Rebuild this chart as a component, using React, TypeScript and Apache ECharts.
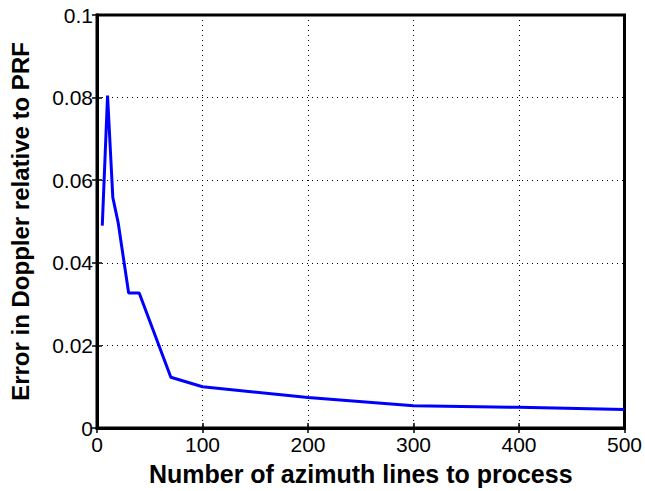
import React, { useEffect, useRef } from "react";
import * as echarts from "echarts";

const xValues = [5, 10, 15, 20, 30, 40, 70, 100, 200, 300, 400, 500];
const yValues = [0.049, 0.0805, 0.0558, 0.0498, 0.0327, 0.0327, 0.0123, 0.01, 0.0074, 0.0054, 0.005, 0.0045];
const xTicks = [0, 100, 200, 300, 400, 500];
const yTicks = [0, 0.02, 0.04, 0.06, 0.08, 0.1];

export default function App() {
  const ref = useRef<HTMLDivElement>(null);
  useEffect(() => {
    if (!ref.current) return;
    const chart = echarts.init(ref.current, null, { renderer: "svg" });
    const font = "Liberation Sans, Arial, Helvetica, sans-serif";
    const gridLine = { show: true, lineStyle: { color: "#000", type: [1, 4] as any, width: 1 } };
    chart.setOption({
      animation: false,
      backgroundColor: "#fff",
      grid: { left: 96, right: 18, top: 15, bottom: 63, show: true, borderColor: "#000", borderWidth: 3, backgroundColor: "transparent" },
      xAxis: [
        {
          type: "value", min: 0, max: 500, interval: 100,
          name: "Number of azimuth lines to process", nameLocation: "middle", nameGap: 33,
          nameTextStyle: { fontFamily: font, fontWeight: "bold", fontSize: 25, color: "#000" },
          axisLine: { show: true, lineStyle: { color: "#000", width: 3 } },
          axisTick: { show: true, inside: true, length: 5, lineStyle: { color: "#000", width: 1.5 } },
          axisLabel: { fontFamily: font, fontSize: 21, color: "#000", margin: 6, formatter: (v: number) => (xTicks.includes(v) ? String(v) : "") },
          splitLine: gridLine,
        },
        {
          type: "value", position: "top", min: 0, max: 500, interval: 100,
          axisLine: { show: true, lineStyle: { color: "#000", width: 3 } },
          axisTick: { show: true, inside: true, length: 5, lineStyle: { color: "#000", width: 1.5 } },
          axisLabel: { show: false }, splitLine: { show: false },
        },
      ],
      yAxis: [
        {
          type: "value", min: 0, max: 0.1, interval: 0.02,
          name: "Error in Doppler relative to PRF", nameLocation: "middle", nameGap: 65,
          nameTextStyle: { fontFamily: font, fontWeight: "bold", fontSize: 24, color: "#000" },
          axisLine: { show: true, lineStyle: { color: "#000", width: 3 } },
          axisTick: { show: true, inside: true, length: 5, lineStyle: { color: "#000", width: 1.5 } },
          axisLabel: {
            fontFamily: font, fontSize: 21, color: "#000", margin: 4,
            formatter: (v: number) => {
              const t = yTicks.find((k) => Math.abs(k - v) < 1e-9);
              return t === undefined ? "" : t === 0 ? "0" : String(+t.toFixed(2));
            },
          },
          splitLine: gridLine,
        },
        {
          type: "value", position: "right", min: 0, max: 0.1, interval: 0.02,
          axisLine: { show: true, lineStyle: { color: "#000", width: 3 } },
          axisTick: { show: true, inside: true, length: 5, lineStyle: { color: "#000", width: 1.5 } },
          axisLabel: { show: false }, splitLine: { show: false },
        },
      ],
      series: [
        {
          type: "line",
          data: xValues.map((x, i) => [x, yValues[i]]),
          showSymbol: false,
          lineStyle: { color: "#0000ff", width: 3 },
          itemStyle: { color: "#0000ff" },
        },
      ],
    });
    return () => chart.dispose();
  }, []);
  return <div ref={ref} style={{ width: 645, height: 491, position: "absolute", left: 0, top: 0 }} />;
}
